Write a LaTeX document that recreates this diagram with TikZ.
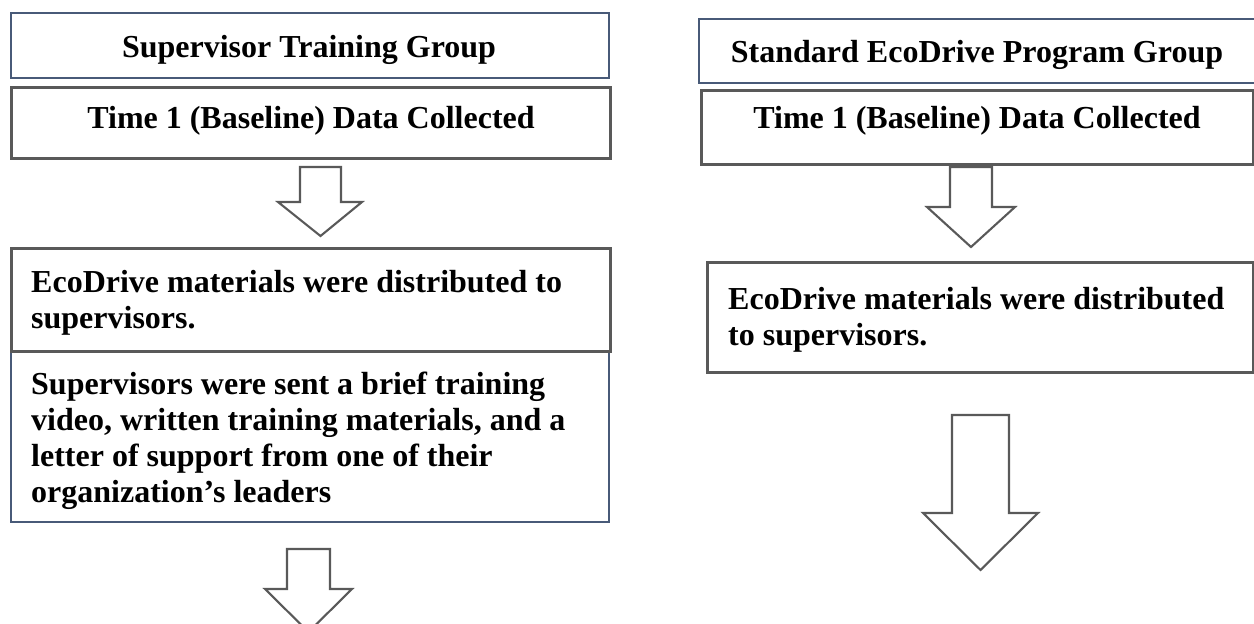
\documentclass[tikz,border=0pt]{standalone}
\usepackage{fontspec}
\setmainfont{Liberation Serif}
\definecolor{bluegray}{RGB}{72,90,120}
\definecolor{boxgray}{RGB}{89,89,89}
\tikzset{
  txt/.style={font=\fontsize{32}{36}\selectfont\bfseries, inner sep=0pt, text=black},
  bluebox/.style={draw=bluegray, line width=2.3pt, inner sep=0pt, anchor=north west},
  graybox/.style={draw=boxgray, line width=2.6pt, inner sep=0pt, anchor=north west},
  blockarrow/.style={draw=boxgray, line width=2.1pt, fill=white, line join=miter},
}
\begin{document}
\begin{tikzpicture}[x=1pt,y=-1pt]
\clip (0,0) rectangle (1254,624);
\fill[white] (0,0) rectangle (1254,624);

% ---------- left column ----------
\node[bluebox, minimum width=598pt, minimum height=65pt] (b1) at (10,12) {};
\node[txt, anchor=base] (t1) at (309,57) {Supervisor Training Group};

\node[graybox, minimum width=599pt, minimum height=71pt] (b2) at (10,86) {};
\node[txt, anchor=base] (t2) at (311,128) {Time 1 (Baseline) Data Collected};

\draw[blockarrow] (300,167) -- (341,167) -- (341,202) -- (362,202) -- (320.5,236) -- (278,202) -- (300,202) -- cycle;

\node[bluebox, minimum width=598pt, minimum height=171pt] (b4) at (10,350) {};
\node[graybox, minimum width=599pt, minimum height=103pt] (b3) at (10,247) {};
% anchor base = baseline of the last line
\node[txt, anchor=base west, align=left] (t3) at (31,328) {EcoDrive materials were distributed to\\supervisors.};
\node[txt, anchor=base west, align=left] (t4) at (31,502) {Supervisors were sent a brief training\\video, written training materials, and a\\letter of support from one of their\\organization’s leaders};

\draw[blockarrow] (287,549) -- (330,549) -- (330,589) -- (352,589) -- (308.5,632) -- (265,589) -- (287,589) -- cycle;

% ---------- right column ----------
\node[bluebox, minimum width=562pt, minimum height=64pt] (r1) at (698,18) {};
\node[txt, anchor=base] (s1) at (977,62) {Standard EcoDrive Program Group};

\node[graybox, minimum width=552pt, minimum height=74pt] (r2) at (700,89) {};
\node[txt, anchor=base] (s2) at (977,128) {Time 1 (Baseline) Data Collected};

\draw[blockarrow] (950,167) -- (992,167) -- (992,207) -- (1015,207) -- (971,247) -- (927,207) -- (950,207) -- cycle;

\node[graybox, minimum width=546pt, minimum height=110pt] (r3) at (706,261) {};
\node[txt, anchor=base west, align=left] (s3) at (728,345) {EcoDrive materials were distributed\\to supervisors.};

\draw[blockarrow] (952,415) -- (1009,415) -- (1009,513) -- (1038,513) -- (980.5,570) -- (923,513) -- (952,513) -- cycle;
\end{tikzpicture}
\end{document}
